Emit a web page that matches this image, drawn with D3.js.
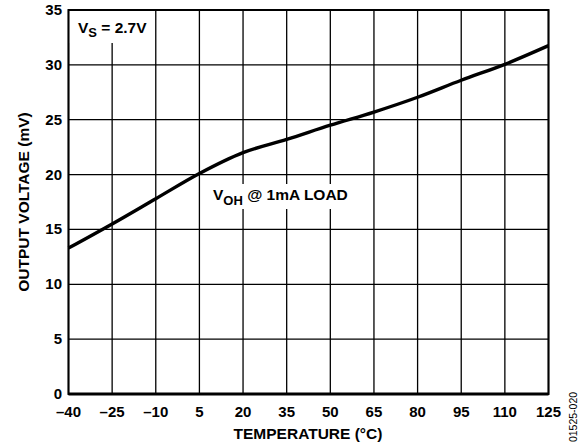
<head>
    <meta charset="utf-8" />
    <script src="https://d3js.org/d3.v7.min.js"></script>
</head>
<style>
    body { margin: 0; background: #fff; }
    text { font-family: "Liberation Sans", Arial, sans-serif; font-weight: bold; fill: #000; }
</style>
<body>
</body>
<script>
// values
var temps = [-40, -25, -10, 5, 20, 35, 50, 65, 80, 95, 110, 125];
var voh = [13.3, 15.5, 17.8, 20.1, 22.0, 23.2, 24.5, 25.7, 27.05, 28.6, 30.05, 31.75];
var xTicks = [-40, -25, -10, 5, 20, 35, 50, 65, 80, 95, 110, 125];
var yTicks = [0, 5, 10, 15, 20, 25, 30, 35];

var W = 584, H = 448;
var m = {left: 68.5, right: 548.5, top: 10, bottom: 394};

var svg = d3.select("body").append("svg")
    .attr("width", W)
    .attr("height", H);

var x = d3.scaleLinear().domain([-40, 125]).range([m.left, m.right]);
var y = d3.scaleLinear().domain([0, 35]).range([m.bottom, m.top]);

// grid
var grid = svg.append("g").attr("stroke", "#000").attr("stroke-width", 1.3);
grid.selectAll(".vx").data(xTicks).enter().append("line")
    .attr("x1", function (d) { return x(d); })
    .attr("x2", function (d) { return x(d); })
    .attr("y1", m.top).attr("y2", m.bottom);
grid.selectAll(".hy").data(yTicks).enter().append("line")
    .attr("y1", function (d) { return y(d); })
    .attr("y2", function (d) { return y(d); })
    .attr("x1", m.left).attr("x2", m.right);

// white boxes behind labels
svg.append("rect").attr("x", m.left + 1).attr("y", m.top + 1)
    .attr("width", 83).attr("height", 32).attr("fill", "#fff");
svg.append("rect").attr("x", 205).attr("y", 184)
    .attr("width", 155).attr("height", 25).attr("fill", "#fff");

// frame
svg.append("rect")
    .attr("x", m.left).attr("y", m.top)
    .attr("width", m.right - m.left).attr("height", m.bottom - m.top)
    .attr("fill", "none").attr("stroke", "#000").attr("stroke-width", 2);
svg.append("line")
    .attr("x1", m.left).attr("x2", m.right)
    .attr("y1", m.bottom).attr("y2", m.bottom)
    .attr("stroke", "#000").attr("stroke-width", 3);

// curve
var line = d3.line()
    .x(function (d, i) { return x(temps[i]); })
    .y(function (d) { return y(d); })
    .curve(d3.curveMonotoneX);
svg.append("path")
    .datum(voh)
    .attr("d", line)
    .attr("fill", "none")
    .attr("stroke", "#000")
    .attr("stroke-width", 3.4);

// tick labels
svg.selectAll(".xl").data(xTicks).enter().append("text")
    .attr("x", function (d) { return x(d); })
    .attr("y", 417)
    .attr("text-anchor", "middle")
    .style("font-size", "15px")
    .text(function (d) { return d < 0 ? "\u2013" + Math.abs(d) : d; });
svg.selectAll(".yl").data(yTicks).enter().append("text")
    .attr("x", 62)
    .attr("y", function (d) { return y(d) + 5; })
    .attr("text-anchor", "end")
    .style("font-size", "15px")
    .text(function (d) { return d; });

// axis titles
svg.append("text")
    .attr("x", 308).attr("y", 439)
    .attr("text-anchor", "middle")
    .style("font-size", "15.5px")
    .text("TEMPERATURE (\u00B0C)");
svg.append("text")
    .attr("transform", "translate(29," + ((m.top + m.bottom) / 2) + ") rotate(-90)")
    .attr("text-anchor", "middle")
    .style("font-size", "15.5px")
    .text("OUTPUT VOLTAGE (mV)");

// annotations
var vs = svg.append("text").attr("x", 78).attr("y", 33).style("font-size", "15.5px");
vs.append("tspan").text("V");
vs.append("tspan").attr("dy", 4).style("font-size", "13px").text("S");
vs.append("tspan").attr("dy", -4).text(" = 2.7V");

var vo = svg.append("text").attr("x", 213).attr("y", 200).style("font-size", "15.5px");
vo.append("tspan").text("V");
vo.append("tspan").attr("dy", 5).style("font-size", "13px").text("OH");
vo.append("tspan").attr("dy", -5).text(" @ 1mA LOAD");

svg.append("text")
    .attr("transform", "translate(577,417) rotate(-90)")
    .attr("text-anchor", "middle")
    .style("font-size", "10.5px")
    .style("font-weight", "normal")
    .text("01525-020");
</script>
